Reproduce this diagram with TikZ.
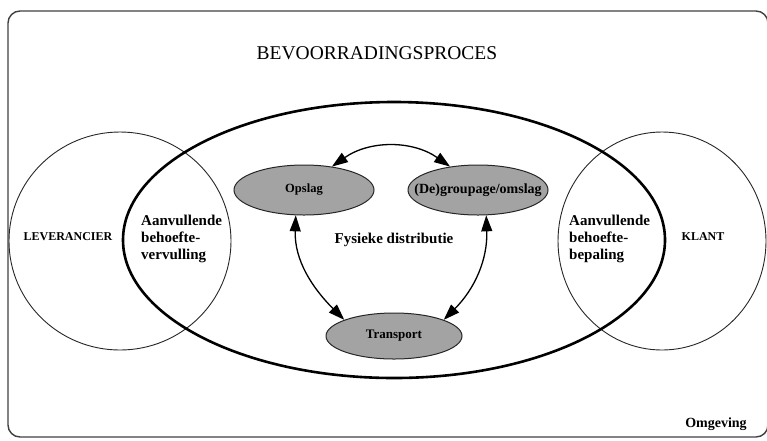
\documentclass[tikz,border=0pt]{standalone}
\usepackage{fontspec}
\setmainfont{Liberation Serif}
\usetikzlibrary{arrows.meta,shapes.geometric}

\tikzset{
  frame/.style={draw=black!75, line width=1.4pt, rounded corners=12pt},
  party/.style={draw=black!85, line width=0.9pt},
  process/.style={draw=black, line width=2.6pt},
  activity/.style={ellipse, draw=black!85, line width=1pt, fill=black!36,
    minimum width=140pt, minimum height=50pt, inner sep=0pt,
    font=\bfseries\fontsize{12.5}{14}\selectfont},
  flow/.style={line width=1.3pt, {Triangle[length=16pt,width=11pt]}-{Triangle[length=16pt,width=11pt]}},
  lbl/.style={font=\bfseries\fontsize{12}{14}\selectfont, inner sep=0pt},
  sub/.style={font=\bfseries\fontsize{15}{17}\selectfont, align=left, inner sep=0pt, anchor=west},
}

\begin{document}
\begin{tikzpicture}[x=1pt, y=-1pt]
  \useasboundingbox (0,0) rectangle (767,440);

  % surrounding environment
  \draw[frame] (8,11) rectangle (768,437);

  % supplier and customer
  \draw[party] (120,241) ellipse [x radius=111, y radius=109];
  \draw[party] (662,241) ellipse [x radius=104, y radius=109];

  % supply process
  \draw[process] (394,240) ellipse [x radius=271, y radius=138];

  \node[font=\fontsize{19.5}{22}\selectfont, inner sep=0pt] (title) at (377,53) {BEVOORRADINGSPROCES};

  % activities of physical distribution
  \node[activity] (opslag) at (304,190) {Opslag};
  \node[activity, font=\bfseries\fontsize{14}{16}\selectfont] (groupage) at (478,190) {\makebox[0pt]{(De)groupage/omslag}};
  \node[activity, minimum width=136pt, minimum height=46pt, font=\bfseries\fontsize{13}{15}\selectfont] (transport) at (394,336) {Transport};

  \node[font=\bfseries\fontsize{15}{17}\selectfont, inner sep=0pt] (fd) at (394,240) {Fysieke distributie};

  % flows between the activities
  \draw[flow] (opslag.40) to[out=35,in=145] (groupage.140);
  \draw[flow] (opslag.-108) to[out=-92,in=135] (transport.162);
  \draw[flow] (groupage.-72) to[out=-88,in=45] (transport.18);

  % labels
  \node[lbl] (lev) at (68,237) {LEVERANCIER};
  \node[lbl] (klant) at (703,237) {KLANT};
  \node[sub] (vervulling) at (141,239) {Aanvullende\\behoefte-\\vervulling};
  \node[sub] (bepaling) at (569,239) {Aanvullende\\behoefte-\\bepaling};
  \node[font=\bfseries\fontsize{14}{16}\selectfont, inner sep=0pt] (omg) at (716,424) {Omgeving};
\end{tikzpicture}
\end{document}
